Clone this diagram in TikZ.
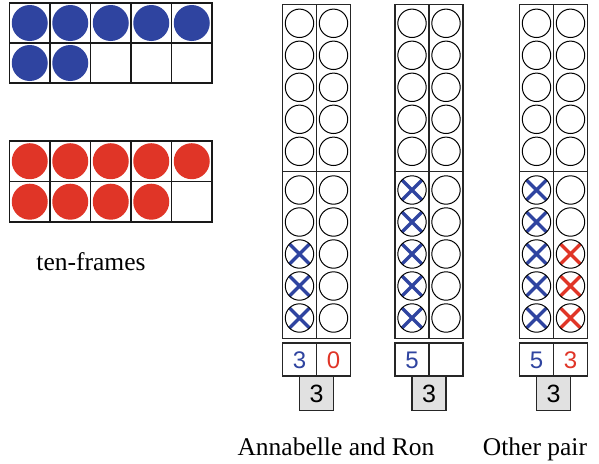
\documentclass[tikz,border=0pt]{standalone}
\usepackage{fontspec}
\setmainfont{Liberation Serif}
\newfontfamily\digitfont{Liberation Sans}
\definecolor{tfblue}{HTML}{2F44A0}
\definecolor{tfred}{HTML}{E03527}
\definecolor{boxgray}{HTML}{E1E1E1}
\begin{document}
\begin{tikzpicture}[x=1pt,y=-1pt,
  frameline/.style={line width=1.6pt, draw=black!90},
  rackline/.style={line width=1.2pt, draw=black!85},
  peg/.style={line width=1pt, draw=black},
  bluedot/.style={fill=tfblue},
  reddot/.style={fill=tfred},
  bluex/.style={line width=3.3pt, draw=tfblue},
  redx/.style={line width=3.3pt, draw=tfred},
  numbox/.style={rackline, fill=white},
  sumbox/.style={rackline, fill=boxgray},
  digit/.style={font=\digitfont\fontsize{24}{26}\selectfont},
  caption/.style={font=\fontsize{25.5}{29}\selectfont, anchor=base}]
\useasboundingbox (0,0) rectangle (599,463);

% ten-frame with seven blue counters
\foreach \i in {0,...,4} \fill[bluedot] (9.5+40.5*\i+20.25, 23) circle[radius=18];
\foreach \i in {0,1} \fill[bluedot] (9.5+40.5*\i+20.25, 63) circle[radius=18];
\draw[frameline] (9.5,3) rectangle (212,83) (9.5,43) -- (212,43);
\foreach \i in {1,...,4} \draw[frameline] (9.5+40.5*\i,3) -- (9.5+40.5*\i,83);

% ten-frame with nine red counters
\foreach \i in {0,...,4} \fill[reddot] (9.5+40.5*\i+20.25, 161.2) circle[radius=18];
\foreach \i in {0,...,3} \fill[reddot] (9.5+40.5*\i+20.25, 201.7) circle[radius=18];
\draw[frameline] (9.5,141) rectangle (212,222) (9.5,181.5) -- (212,181.5);
\foreach \i in {1,...,4} \draw[frameline] (9.5+40.5*\i,141) -- (9.5+40.5*\i,222);

\node[caption] (tf) at (91,270.7) {ten-frames};

% double ten-frame racks with their counts
\foreach \L/\nb/\nr/\da/\db [count=\c] in {282.5/3/0/3/0, 395/5/0/5/{}, 519.5/5/3/5/3} {
  \foreach \k in {0,...,4} {
    \ifnum\k>\numexpr4-\nb\relax
      \draw[bluex, shift={(\L+17,190+32*\k)}] (-10,-10) -- (10,10) (-10,10) -- (10,-10);
    \fi
    \ifnum\k>\numexpr4-\nr\relax
      \draw[redx, shift={(\L+51,190+32*\k)}] (-10,-10) -- (10,10) (-10,10) -- (10,-10);
    \fi
    \draw[peg] (\L+17,23.3+32*\k) circle[radius=14.2];
    \draw[peg] (\L+51,23.3+32*\k) circle[radius=14.2];
    \draw[peg] (\L+17,190+32*\k) circle[radius=14.2];
    \draw[peg] (\L+51,190+32*\k) circle[radius=14.2];
  }
  \draw[rackline] (\L,4.3) rectangle (\L+68,338.3)
    (\L+34,4.3) -- (\L+34,338.3) (\L,171.3) -- (\L+68,171.3);
  \draw[numbox] (\L,343) rectangle (\L+68,376) (\L+34,343) -- (\L+34,376);
  \draw[sumbox] (\L+17,376) rectangle (\L+51,410.3);
  \node[digit, text=tfblue] (a\c) at (\L+17,360) {\da};
  \node[digit, text=tfred] (b\c) at (\L+51,360) {\db};
  \node[digit, font=\digitfont\fontsize{25}{27}\selectfont] (s\c) at (\L+34,393.5) {3};
}

\node[caption] (ar) at (336,455) {Annabelle and Ron};
\node[caption] (op) at (535,455) {Other pair};
\end{tikzpicture}
\end{document}
